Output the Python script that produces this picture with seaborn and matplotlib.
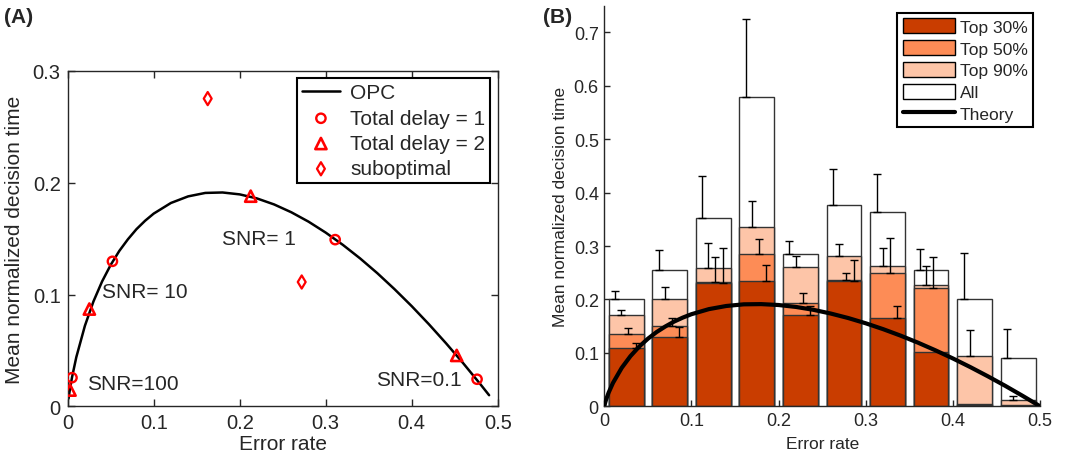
import numpy as np
import pandas as pd
import matplotlib
matplotlib.use("Agg")
import matplotlib.pyplot as plt
from matplotlib.patches import Patch
from matplotlib.lines import Line2D
import seaborn as sns

# ---------------- data ----------------
# Optimal performance curve (OPC / theory)
opc_x = [0.0, 0.001, 0.002, 0.005, 0.01, 0.02, 0.03, 0.04, 0.05, 0.06, 0.07, 0.08, 0.09, 0.10,
         0.12, 0.14, 0.16, 0.18, 0.20, 0.22, 0.24, 0.26, 0.28, 0.30, 0.32, 0.34,
         0.36, 0.38, 0.40, 0.42, 0.44, 0.46, 0.48, 0.49, 0.5]
opc_y = [0.0, 0.0069, 0.0123, 0.0258, 0.0439, 0.0720, 0.0939, 0.1117, 0.1265, 0.1390,
         0.1494, 0.1585, 0.1660, 0.1724, 0.1819, 0.1878, 0.1909, 0.1913, 0.1896, 0.1860,
         0.1806, 0.1736, 0.1652, 0.1554, 0.1444, 0.1323, 0.1191, 0.1048, 0.0896, 0.0734,
         0.0563, 0.0384, 0.0196, 0.0099, 0.0]

# Panel A points
delay1_x = [0.005, 0.052, 0.311, 0.476]
delay1_y = [0.0256, 0.1297, 0.1491, 0.0242]
delay2_x = [0.0027, 0.0252, 0.2128, 0.4523]
delay2_y = [0.0145, 0.0870, 0.1880, 0.0455]
subopt_x = [0.1628, 0.2721]
subopt_y = [0.2753, 0.1112]

snr_labels = ["SNR=100", "SNR= 10", "SNR= 1", "SNR=0.1"]
snr_x = [0.022, 0.0395, 0.180, 0.358]
snr_y = [0.020, 0.103, 0.150, 0.024]

# Panel B bars
bin_centers = [0.025, 0.075, 0.125, 0.175, 0.225, 0.275, 0.325, 0.375, 0.425, 0.475]
all_mean = [0.200, 0.256, 0.353, 0.580, 0.286, 0.377, 0.364, 0.256, 0.201, 0.090]
all_err = [0.016, 0.037, 0.079, 0.146, 0.023, 0.068, 0.071, 0.038, 0.086, 0.054]
top90_mean = [0.170, 0.201, 0.258, 0.336, 0.261, 0.282, 0.263, 0.227, 0.094, 0.011]
top90_err = [0.010, 0.022, 0.047, 0.048, 0.020, 0.021, 0.033, 0.036, 0.048, 0.008]
top50_mean = [0.136, 0.151, 0.232, 0.285, 0.193, 0.236, 0.250, 0.222, 0.005, 0.003]
top50_err = [0.010, 0.014, 0.047, 0.029, 0.020, 0.014, 0.066, 0.058, 0.0, 0.0]
top30_mean = [0.110, 0.130, 0.231, 0.235, 0.171, 0.234, 0.165, 0.102, 0.003, 0.001]
top30_err = [0.009, 0.018, 0.065, 0.030, 0.016, 0.039, 0.022, 0.0, 0.0, 0.0]

series_labels = ["All", "Top 90%", "Top 50%", "Top 30%"]

# ---------------- style ----------------
sns.set_style("ticks")
plt.rcParams["font.family"] = ["Liberation Sans", "DejaVu Sans"]
plt.rcParams["axes.linewidth"] = 1.0

RED = "#ff0000"
COLORS = {"All": "#ffffff", "Top 90%": "#fdc5a8", "Top 50%": "#fd8c56", "Top 30%": "#c93d00"}
EDGE = "#333333"

fig = plt.figure(figsize=(10.66, 4.6), dpi=100)
axA = fig.add_axes([0.0635, 0.1146, 0.4034, 0.7289])
axB = fig.add_axes([0.5669, 0.1146, 0.4087, 0.8708])

# ---------------- panel A ----------------
dfA = pd.DataFrame({"x": opc_x[1:-1], "y": opc_y[1:-1]})
sns.lineplot(data=dfA, x="x", y="y", ax=axA, color="black", lw=1.8,
             errorbar=None, sort=False, label="OPC")
sns.scatterplot(x=delay1_x, y=delay1_y, ax=axA, marker="o", s=45,
                facecolor="none", edgecolor=RED, linewidth=1.7,
                label="Total delay = 1", zorder=5)
sns.scatterplot(x=delay2_x, y=delay2_y, ax=axA, marker="^", s=65,
                facecolor="none", edgecolor=RED, linewidth=1.9,
                label="Total delay = 2", zorder=5)
sns.scatterplot(x=subopt_x, y=subopt_y, ax=axA, marker="d", s=45,
                facecolor="none", edgecolor=RED, linewidth=1.6,
                label="suboptimal", zorder=5)
for t, x, y in zip(snr_labels, snr_x, snr_y):
    axA.text(x, y, t, fontsize=15, va="center", ha="left")

axA.set_xlim(0, 0.5)
axA.set_ylim(0, 0.3)
axA.set_xticks([0, 0.1, 0.2, 0.3, 0.4, 0.5])
axA.set_xticklabels(["0", "0.1", "0.2", "0.3", "0.4", "0.5"])
axA.set_yticks([0, 0.1, 0.2, 0.3])
axA.set_yticklabels(["0", "0.1", "0.2", "0.3"])
axA.tick_params(direction="in", length=5, width=1, labelsize=14.5,
                top=True, right=True, pad=5)
for s in axA.spines.values():
    s.set_visible(True)
    s.set_linewidth(1.0)
axA.set_xlabel("Error rate", fontsize=15, labelpad=1)
axA.set_ylabel("Mean normalized decision time", fontsize=15, labelpad=6)
legA = axA.legend(loc="upper right", fontsize=15, frameon=True, fancybox=False,
                  edgecolor="black", framealpha=1, borderaxespad=0.35,
                  labelspacing=0.3, handlelength=1.8, handletextpad=0.5,
                  borderpad=0.25)
legA.get_frame().set_linewidth(1.5)

# ---------------- panel B ----------------
means = {"All": all_mean, "Top 90%": top90_mean, "Top 50%": top50_mean, "Top 30%": top30_mean}
errs = {"All": all_err, "Top 90%": top90_err, "Top 50%": top50_err, "Top 30%": top30_err}
err_offset = {"All": -0.0125, "Top 90%": -0.0055, "Top 50%": 0.0025, "Top 30%": 0.011}

for lab in series_labels:
    df = pd.DataFrame({"x": bin_centers, "y": means[lab]})
    sns.barplot(data=df, x="x", y="y", ax=axB, native_scale=True, width=0.8,
                color=COLORS[lab], saturation=1, edgecolor=EDGE, linewidth=1.0,
                errorbar=None, zorder=2)

for lab in series_labels:
    xs = np.array(bin_centers) + err_offset[lab]
    ys = np.array(means[lab])
    e = np.array(errs[lab])
    keep = e > 0
    axB.errorbar(xs[keep], ys[keep], yerr=[np.zeros(keep.sum()), e[keep]],
                 fmt="none", ecolor="black", elinewidth=1.0, capsize=3,
                 capthick=1.0, zorder=3)

dfB = pd.DataFrame({"x": opc_x, "y": opc_y})
sns.lineplot(data=dfB, x="x", y="y", ax=axB, color="black", lw=3,
             errorbar=None, sort=False, zorder=4)

axB.set_xlim(0, 0.5)
axB.set_ylim(0, 0.75)
axB.set_xticks([0, 0.1, 0.2, 0.3, 0.4, 0.5])
axB.set_xticklabels(["0", "0.1", "0.2", "0.3", "0.4", "0.5"])
axB.set_yticks([0, 0.1, 0.2, 0.3, 0.4, 0.5, 0.6, 0.7])
axB.set_yticklabels(["0", "0.1", "0.2", "0.3", "0.4", "0.5", "0.6", "0.7"])
axB.tick_params(direction="in", length=4, width=1, labelsize=13, pad=4)
axB.spines["top"].set_visible(False)
axB.spines["right"].set_visible(False)
axB.set_xlabel("Error rate", fontsize=12.5, labelpad=5)
axB.set_ylabel("Mean normalized decision time", fontsize=12.5, labelpad=4)

handles = [Patch(facecolor=COLORS[l], edgecolor="black", linewidth=1.0)
           for l in ["Top 30%", "Top 50%", "Top 90%", "All"]]
handles.append(Line2D([], [], color="black", lw=3))
legB = axB.legend(handles, ["Top 30%", "Top 50%", "Top 90%", "All", "Theory"],
                  loc="upper right", fontsize=12.5, frameon=True, fancybox=False,
                  edgecolor="black", framealpha=1, borderaxespad=0.4,
                  labelspacing=0.3, handlelength=3.0, handleheight=1.0,
                  handletextpad=0.3, borderpad=0.3)
legB.get_frame().set_linewidth(1.5)

fig.text(0.004, 0.962, "(A)", fontsize=15, fontweight="bold", va="center", ha="left")
fig.text(0.509, 0.962, "(B)", fontsize=15, fontweight="bold", va="center", ha="left")

fig.savefig("out.png", dpi=100)
